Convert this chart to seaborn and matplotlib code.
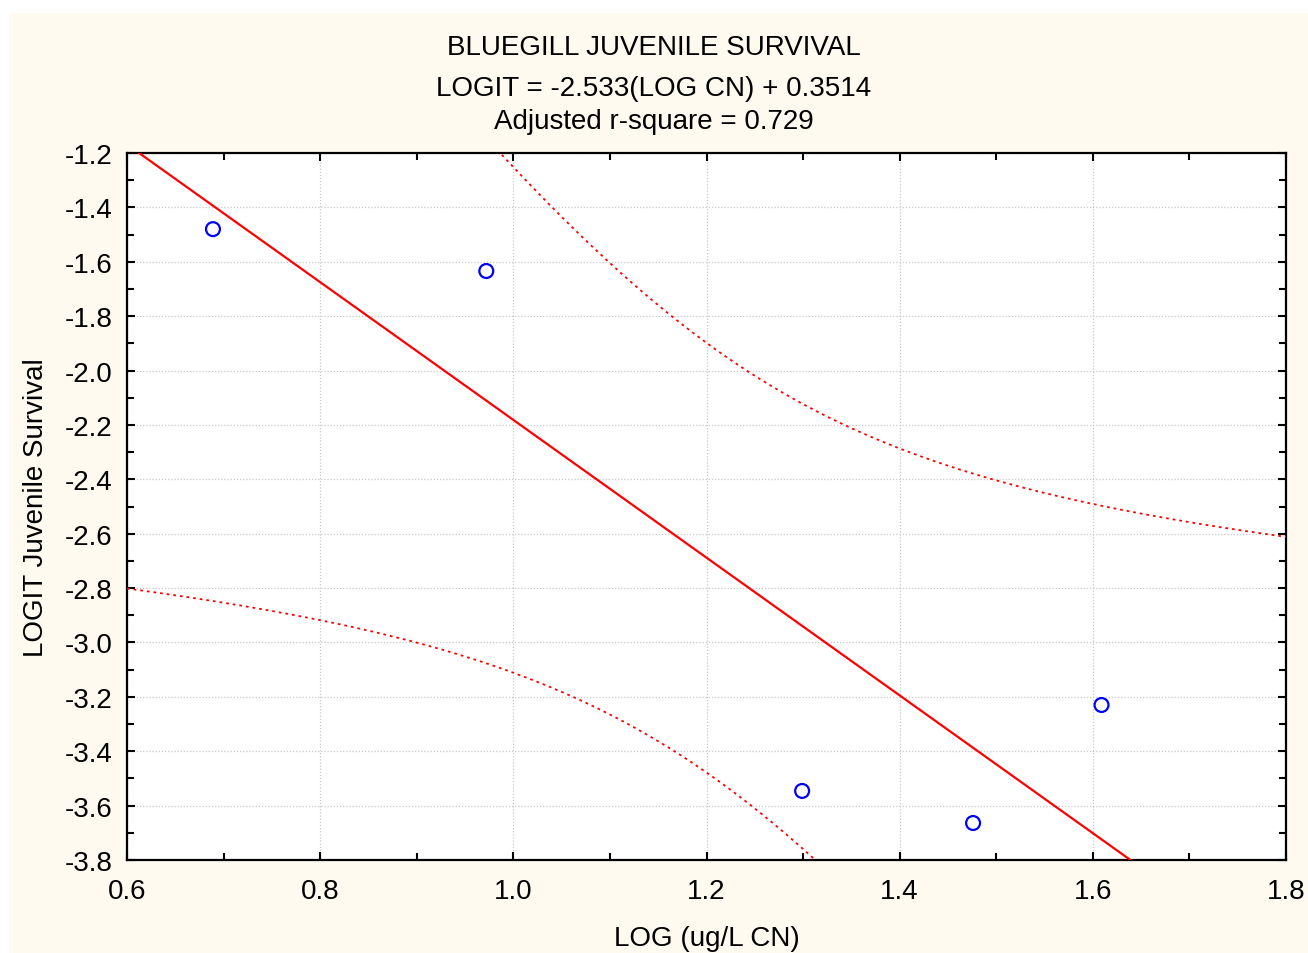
import numpy as np
import pandas as pd
import matplotlib
matplotlib.use("Agg")
import matplotlib.pyplot as plt
from matplotlib.ticker import MultipleLocator, FormatStrFormatter
from matplotlib.patches import Rectangle
import seaborn as sns

# ---- data ----
log_cn = [0.689, 0.972, 1.299, 1.476, 1.609]
logit_surv = [-1.480, -1.634, -3.546, -3.664, -3.230]
slope = -2.533
intercept = 0.3514
t_crit = 3.182  # 95%, df = 3

title_lines = ["BLUEGILL JUVENILE SURVIVAL",
               "LOGIT = -2.533(LOG CN) + 0.3514",
               "Adjusted r-square = 0.729"]
x_label = "LOG (ug/L CN)"
y_label = "LOGIT Juvenile Survival"

sns.set_style("white")
plt.rcParams['font.family'] = ['Liberation Sans', 'DejaVu Sans']
plt.rcParams['text.color'] = 'black'
plt.rcParams['axes.labelcolor'] = 'black'
plt.rcParams['xtick.color'] = 'black'
plt.rcParams['ytick.color'] = 'black'

FS = 20

W, H = 1308, 954
fig = plt.figure(figsize=(W / 100, H / 100), dpi=100, facecolor="white")
fig.patches.append(Rectangle((9 / W, 0), 1 - 9 / W, 1 - 14 / H, transform=fig.transFigure,
                             facecolor="#FEFAF0", edgecolor="none", zorder=-10))
ax = fig.add_axes([127 / W, 1 - 861 / H, (1286 - 127) / W, (861 - 154) / H])
ax.set_facecolor("white")

df = pd.DataFrame({"x": log_cn, "y": logit_surv})

# regression line and 95% confidence band of the mean
xs = np.linspace(0.6, 1.8, 400)
yfit = intercept + slope * xs
x_arr = np.array(log_cn)
y_arr = np.array(logit_surv)
n = len(x_arr)
resid = y_arr - (intercept + slope * x_arr)
s = np.sqrt(np.sum(resid ** 2) / (n - 2))
sxx = np.sum((x_arr - x_arr.mean()) ** 2)
half = t_crit * s * np.sqrt(1 / n + (xs - x_arr.mean()) ** 2 / sxx)
band = pd.DataFrame({"x": xs, "fit": yfit, "lo": yfit - half, "hi": yfit + half})

sns.lineplot(data=band, x="x", y="fit", ax=ax, color="#FF0000", lw=1.6, zorder=3)
sns.lineplot(data=band, x="x", y="lo", ax=ax, color="#FF0000", lw=1.3, ls=(0, (1.5, 2.2)), zorder=3)
sns.lineplot(data=band, x="x", y="hi", ax=ax, color="#FF0000", lw=1.3, ls=(0, (1.5, 2.2)), zorder=3)
sns.scatterplot(data=df, x="x", y="y", ax=ax, s=100, facecolor="none", edgecolor="#0000FF",
                linewidth=1.6, zorder=4)

ax.set_xlim(0.6, 1.8)
ax.set_ylim(-3.8, -1.2)
ax.xaxis.set_major_locator(MultipleLocator(0.2))
ax.yaxis.set_major_locator(MultipleLocator(0.2))
ax.xaxis.set_minor_locator(MultipleLocator(0.1))
ax.yaxis.set_minor_locator(MultipleLocator(0.1))
ax.xaxis.set_major_formatter(FormatStrFormatter("%.1f"))
ax.yaxis.set_major_formatter(FormatStrFormatter("%.1f"))
ax.tick_params(which="both", direction="in", top=True, right=True, bottom=True, left=True,
               width=1.5, color="black")
ax.tick_params(which="major", length=6, labelsize=FS)
ax.tick_params(which="minor", length=5)
ax.tick_params(axis="x", which="major", pad=13)
ax.tick_params(axis="y", which="major", pad=10.5)
ax.grid(True, which="major", color="#C8C8C8", ls=(0, (1, 1.5)), lw=0.9)
for sp in ax.spines.values():
    sp.set_visible(True)
    sp.set_color("black")
    sp.set_linewidth(1.6)

ax.set_xlabel(x_label, fontsize=FS, labelpad=15)
ax.set_ylabel(y_label, fontsize=FS, labelpad=11)

fig.text(0.5, 1 - 48 / H, title_lines[0], ha="center", va="center", fontsize=FS)
fig.text(0.5, 1 - 89 / H, title_lines[1], ha="center", va="center", fontsize=FS)
fig.text(0.5, 1 - 122 / H, title_lines[2], ha="center", va="center", fontsize=FS)

fig.savefig("out.png", dpi=100, facecolor="white")
